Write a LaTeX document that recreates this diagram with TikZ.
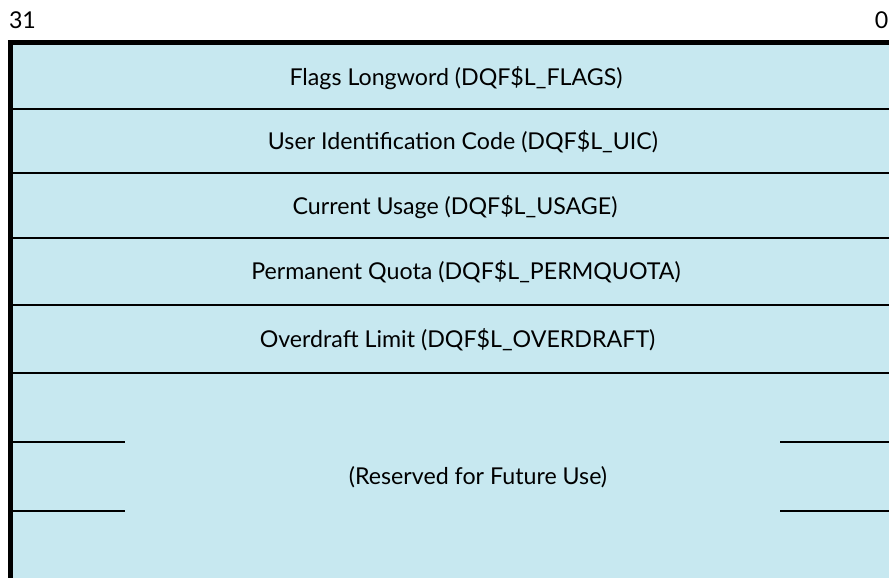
\documentclass[tikz,border=0pt]{standalone}
\usepackage{fontspec}
\setmainfont{Lato}
\definecolor{cellfill}{RGB}{199,232,240}
\begin{document}
\begin{tikzpicture}[x=1pt,y=1pt,
  lbl/.style={anchor=base,inner sep=0pt,font=\fontsize{23.2}{27}\selectfont},
  divider/.style={draw=black,line width=2pt},
  border/.style={draw=black,line width=5.5pt}]
\clip (0,0) rectangle (889,-578);
\useasboundingbox (0,0) rectangle (889,-578);
\fill[cellfill] (10,-42) rectangle (889,-578);
% coordinates
\coordinate (tl) at (10.5,-42.5);
\coordinate (tr) at (889,-42.5);
\coordinate (bl) at (10.5,-578);
\foreach \n/\y in {d1/108.7,d2/173.3,d3/238.3,d4/305,d5/373}{
  \coordinate (\n l) at (13,-\y);
  \coordinate (\n r) at (889,-\y);
}
\coordinate (s1l) at (13,-441.7);  \coordinate (s1m) at (125,-441.7);
\coordinate (s1n) at (780,-441.7); \coordinate (s1r) at (889,-441.7);
\coordinate (s2l) at (13,-510.7);  \coordinate (s2m) at (125,-510.7);
\coordinate (s2n) at (780,-510.7); \coordinate (s2r) at (889,-510.7);
% dividers
\foreach \n in {d1,d2,d3,d4,d5}{ \draw[divider] (\n l) -- (\n r); }
\draw[divider] (s1l) -- (s1m);
\draw[divider] (s1n) -- (s1r);
\draw[divider] (s2l) -- (s2m);
\draw[divider] (s2n) -- (s2r);
% borders
\draw[border] (bl) -- (10.5,-39.75) ;
\draw[border] (7.75,-42.5) -- (tr);
% bit labels
\node[lbl] (b31) at (22.5,-29) {31};
\node[lbl,anchor=base east] (b0) at (888.5,-29) {0};
% texts
\node[lbl] (t1) at (456,-77-8.3) {Flags Longword (DQF\$L\_FLAGS)};
\node[lbl] (t2) at (463,-141-8.3) {User Identification Code (DQF\$L\_UIC)};
\node[lbl] (t3) at (455,-205.8-8.3) {Current Usage (DQF\$L\_USAGE)};
\node[lbl] (t4) at (466,-271.6-8.3) {Permanent Quota (DQF\$L\_PERMQUOTA)};
\node[lbl] (t5) at (457.5,-339-8.3) {Overdraft Limit (DQF\$L\_OVERDRAFT)};
\node[lbl] (t6) at (478,-476-8.3) {(Reserved for Future Use)};
\end{tikzpicture}
\end{document}
